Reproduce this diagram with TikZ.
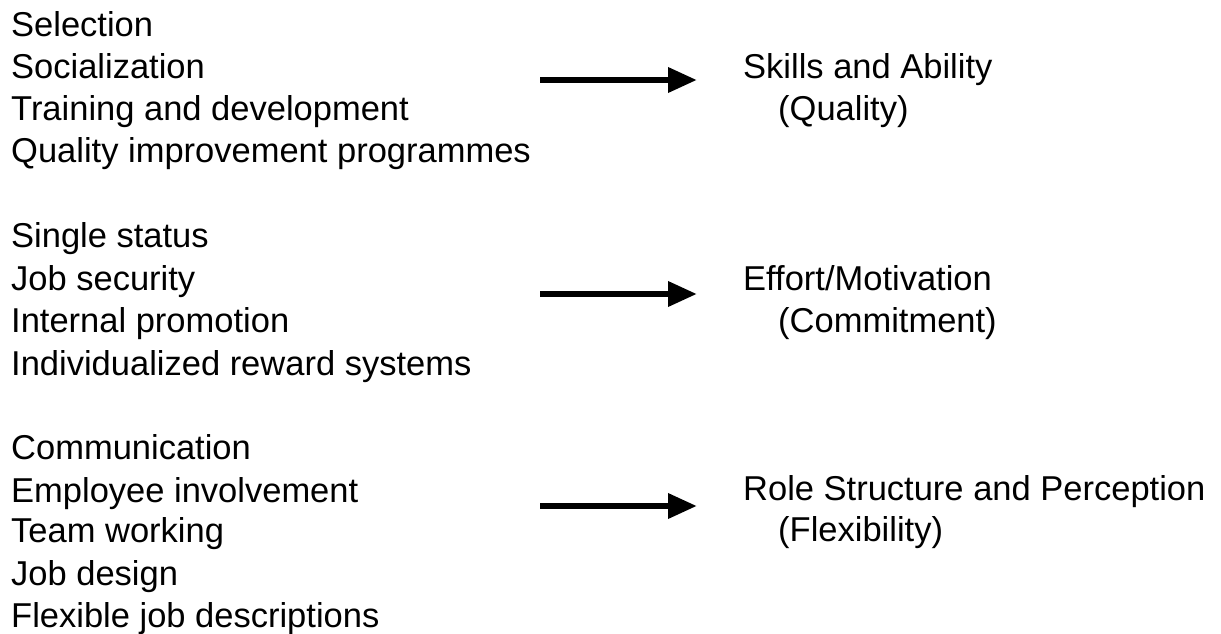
\documentclass[tikz,border=0pt]{standalone}
\usepackage{fontspec}
\setmainfont{Liberation Sans}
\usetikzlibrary{arrows.meta}
\begin{document}
\begin{tikzpicture}[x=1pt,y=-1pt,
  lefttext/.style={anchor=base west,inner sep=0pt,font=\fontsize{34.5}{42}\selectfont},
  righttext/.style={anchor=base west,inner sep=0pt,font=\fontsize{34.5}{42}\selectfont},
  bigarrow/.style={line width=6.5pt,-{Triangle[length=29pt,width=24pt]}}]
\useasboundingbox[fill=white] (0,0) rectangle (1221,634);
% group 1
\node[lefttext] (l11) at (11,37) {Selection};
\node[lefttext] (l12) at (11,78) {Socialization};
\node[lefttext] (l13) at (11,120) {Training and development};
\node[lefttext] (l14) at (11,162) {Quality improvement programmes};
% group 2
\node[lefttext] (l21) at (11,247) {Single status};
\node[lefttext] (l22) at (11,290) {Job security};
\node[lefttext] (l23) at (11,332) {Internal promotion};
\node[lefttext] (l24) at (11,375) {Individualized reward systems};
% group 3
\node[lefttext] (l31) at (11,459) {Communication};
\node[lefttext] (l32) at (11,502) {Employee involvement};
\node[lefttext] (l33) at (11,542) {Team working};
\node[lefttext] (l34) at (11,585) {Job design};
\node[lefttext] (l35) at (11,627) {Flexible job descriptions};
% right side
\node[righttext] (r11) at (743,78) {Skills and Ability};
\node[righttext] (r12) at (778,120) {(Quality)};
\node[righttext] (r21) at (743,290) {Effort/Motivation};
\node[righttext] (r22) at (778,332) {(Commitment)};
\node[righttext] (r31) at (743,500) {Role Structure and Perception};
\node[righttext] (r32) at (778,541) {(Flexibility)};
% arrows
\coordinate (a1s) at (540,80);
\coordinate (a1e) at (697,80);
\coordinate (a2s) at (540,294);
\coordinate (a2e) at (697,294);
\coordinate (a3s) at (540,506);
\coordinate (a3e) at (697,506);
\draw[bigarrow] (a1s) -- (a1e);
\draw[bigarrow] (a2s) -- (a2e);
\draw[bigarrow] (a3s) -- (a3e);
\end{tikzpicture}
\end{document}
